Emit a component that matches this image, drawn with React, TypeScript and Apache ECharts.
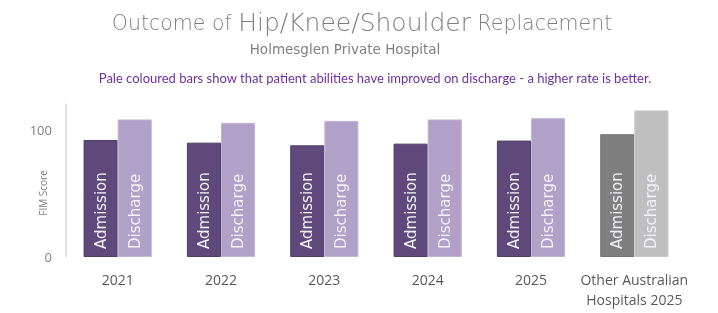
import React, { useEffect, useRef } from "react";
import * as echarts from "echarts";

const categories = ["2021", "2022", "2023", "2024", "2025", "Other Australian\nHospitals 2025"];
const admission = [91.8, 89.7, 87.6, 88.9, 91.3, 96.3];
const discharge = [107.9, 105.2, 106.8, 107.9, 108.9, 115];
const seriesNames = ["Admission", "Discharge"];
const yTicks = [0, 100];

export default function App() {
  const ref = useRef<HTMLDivElement>(null);
  useEffect(() => {
    if (!ref.current) return;
    const chart = echarts.init(ref.current, null, { renderer: "svg" });
    const lastIdx = categories.length - 1;
    const labelFont = "DejaVu Sans";
    const mk = (vals: number[], purple: string, purpleBorder: string, gray: string, grayBorder: string) =>
      vals.map((v, i) => ({
        value: v,
        itemStyle: {
          color: i === lastIdx ? gray : purple,
          borderColor: i === lastIdx ? grayBorder : purpleBorder,
          borderWidth: 1,
        },
      }));
    chart.setOption({
      animation: false,
      grid: { left: 66, right: 32, top: 104, bottom: 56, containLabel: false },
      xAxis: {
        type: "category",
        data: categories,
        axisLine: { show: false },
        axisTick: { show: false },
        axisLabel: {
          color: "#595959",
          fontSize: 14,
          lineHeight: 20,
          margin: 12,
          fontFamily: "Open Sans",
          interval: 0,
        },
      },
      yAxis: {
        type: "value",
        min: 0,
        max: 120,
        interval: 100,
        splitLine: { show: false },
        axisTick: { show: false },
        axisLine: { show: true, lineStyle: { color: "#D9D9D9", width: 1.5 } },
        axisLabel: {
          color: "#7F7F7F",
          fontSize: 13,
          margin: 14,
          fontFamily: "Open Sans",
          formatter: (v: number) => (yTicks.includes(v) ? String(v) : ""),
        },
      },
      series: [
        {
          name: seriesNames[0],
          type: "bar",
          barWidth: "33%",
          barGap: "0%",
          data: mk(admission, "#5F497A", "#513E69", "#7F7F7F", "#737373"),
          label: {
            show: true,
            position: "insideBottom",
            rotate: 90,
            distance: 8,
            align: "left",
            verticalAlign: "middle",
            formatter: () => seriesNames[0],
            color: "#F2F0F5",
            fontSize: 15,
            fontFamily: labelFont,
          },
        },
        {
          name: seriesNames[1],
          type: "bar",
          barWidth: "33%",
          barGap: "0%",
          data: mk(discharge, "#B1A0C7", "#C3B6D4", "#BFBFBF", "#C9C9C9"),
          label: {
            show: true,
            position: "insideBottom",
            rotate: 90,
            distance: 8,
            align: "left",
            verticalAlign: "middle",
            formatter: () => seriesNames[1],
            color: "#F4F1F8",
            fontSize: 15,
            fontFamily: labelFont,
          },
        },
      ],
      graphic: [
        {
          type: "text",
          x: 362,
          y: 35,
          style: {
            text: "{a|Outcome of }{b|Hip/Knee/Shoulder}{a| Replacement}",
            align: "center",
            verticalAlign: "bottom",
            rich: {
              a: { fontSize: 20.5, fontFamily: "DejaVu Sans", fontWeight: 300, fill: "#7F7F7F", color: "#7F7F7F" },
              b: { fontSize: 25, fontFamily: "DejaVu Sans", fontWeight: 300, fill: "#7F7F7F", color: "#7F7F7F" },
            },
          },
        },
        {
          type: "text",
          x: 345,
          y: 49,
          style: {
            text: "Holmesglen Private Hospital",
            align: "center",
            verticalAlign: "middle",
            fontSize: 13.5,
            fontFamily: "DejaVu Sans",
            fill: "#7F7F7F",
          },
        },
        {
          type: "text",
          x: 375,
          y: 78,
          style: {
            text: "Pale coloured bars show that patient abilities have improved on discharge - a higher rate is better.",
            align: "center",
            verticalAlign: "middle",
            fontSize: 13,
            fontFamily: "Lato",
            fill: "#7030A0",
          },
        },
        {
          type: "text",
          x: 43,
          y: 193,
          rotation: Math.PI / 2,
          style: {
            text: "FIM Score",
            align: "center",
            verticalAlign: "middle",
            fontSize: 10,
            fontFamily: "Open Sans",
            fill: "#7F7F7F",
          },
        },
      ],
    });
    return () => chart.dispose();
  }, []);
  return <div ref={ref} style={{ position: "fixed", left: 0, top: 0, width: 718, height: 313 }} />;
}
